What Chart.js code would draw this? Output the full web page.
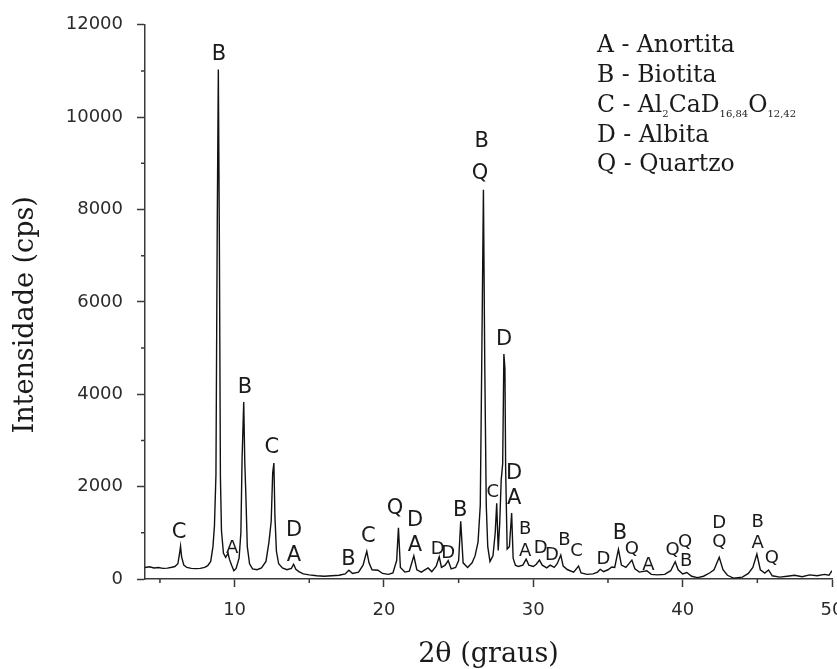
<!DOCTYPE html>
<html><head><meta charset="utf-8">
<script src="https://cdn.jsdelivr.net/npm/chart.js@4.4.1/dist/chart.umd.min.js"></script>
<style>html,body{margin:0;padding:0;background:#fff;overflow:hidden}#wrap{width:837px;height:669px}</style>
</head><body><div id="wrap"><canvas id="c" width="837" height="669"></canvas></div>
<script>
// ---- data ----
const twoTheta = [4.0,4.3,4.6,4.9,5.2,5.5,5.8,6.0,6.2,6.3,6.38,6.45,6.6,6.8,7.1,7.4,7.7,8.0,8.2,8.4,8.55,8.65,8.75,8.84,8.91,8.98,9.05,9.12,9.25,9.4,9.5,9.56,9.65,9.8,9.95,10.1,10.3,10.42,10.5,10.61,10.68,10.75,10.85,11.0,11.2,11.5,11.8,12.1,12.3,12.45,12.55,12.63,12.7,12.8,12.95,13.2,13.5,13.8,13.95,14.1,14.3,14.6,15.0,15.5,16.0,16.5,17.0,17.4,17.65,17.9,18.3,18.6,18.85,19.0,19.2,19.6,19.9,20.3,20.6,20.85,20.97,21.1,21.4,21.7,22.0,22.2,22.5,22.95,23.2,23.5,23.7,23.85,24.1,24.3,24.5,24.8,25.0,25.14,25.3,25.6,25.9,26.1,26.3,26.45,26.55,26.66,26.75,26.85,26.95,27.1,27.3,27.45,27.55,27.65,27.75,27.85,27.95,28.03,28.1,28.15,28.25,28.4,28.55,28.65,28.8,29.0,29.3,29.52,29.7,30.0,30.2,30.41,30.6,30.9,31.13,31.4,31.6,31.84,32.0,32.3,32.7,33.03,33.2,33.6,34.0,34.3,34.48,34.7,35.0,35.26,35.45,35.7,35.9,36.2,36.6,36.8,37.1,37.6,37.9,38.3,38.8,39.2,39.5,39.7,40.0,40.28,40.6,41.0,41.4,41.8,42.1,42.45,42.7,43.0,43.4,44.0,44.4,44.7,44.97,45.2,45.5,45.75,46.0,46.5,47.0,47.5,48.0,48.5,49.0,49.5,49.8,50.0];
const intensity = [250,265,240,250,230,235,255,270,330,520,710,480,300,250,230,225,230,250,290,380,700,1150,2250,7800,11030,7300,2200,1050,560,470,520,560,430,300,180,230,450,1000,2600,3830,2550,1850,700,330,220,200,240,380,800,1250,2300,2510,1350,600,330,240,200,230,320,210,160,110,90,70,60,70,80,110,190,120,150,300,600,350,200,190,120,100,130,400,1110,250,150,170,500,200,150,240,160,280,480,250,300,400,220,250,400,1250,350,250,350,500,800,1600,4760,8430,4620,1600,700,380,500,1000,1640,620,1200,2140,2500,4870,4550,2350,650,700,1430,450,300,270,300,430,300,270,320,410,300,240,300,250,330,520,280,200,150,280,130,100,110,150,210,160,200,260,250,640,300,250,410,220,150,180,100,90,100,180,375,200,110,140,60,30,60,130,200,470,200,80,20,40,120,250,540,200,130,195,70,40,60,80,50,90,70,100,80,180];
const xTicks = [10,20,30,40,50];
const xMinorTicks = [5,15,25,35,45];
const yTicks = [0,2000,4000,6000,8000,10000,12000];
const yMinorTicks = [1000,3000,5000,7000,9000,11000];
const peakLabelText = ['B','C','A','B','C','D','A','B','C','Q','D','A','D','D','B','B','Q','C','D','D','A','B','A','D','D','B','C','D','B','Q','A','Q','Q','B','D','Q','B','A','Q'];
const peakLabelX = [8.95,6.28,9.83,10.7,12.49,13.98,13.98,17.62,18.96,20.74,22.08,22.08,23.6,24.3,25.1,26.55,26.44,27.28,28.05,28.72,28.72,29.45,29.45,30.5,31.24,32.08,32.9,34.7,35.81,36.6,37.71,39.32,40.17,40.24,42.45,42.45,45.03,45.03,45.97];
const peakLabelY = [11350,1000,670,4150,2855,1057,518,431,913,1525,1273,734,641,555,1489,9474,8790,1884,5194,2281,1741,1072,589,662,518,842,589,431,986,641,302,626,784,375,1215,784,1237,770,447];
const legendA = 'A - Anortita';
const legendB = 'B - Biotita';
const legendC = [['C - Al',0],['2',1],['CaD',0],['16,84',1],['O',0],['12,42',1]];
const legendD = 'D - Albita';
const legendQ = 'Q - Quartzo';
const xTitle = '2θ (graus)';
const yTitle = 'Intensidade (cps)   ';

// ---- drawing ----
const points = twoTheta.map((x, i) => ({x: x, y: intensity[i]}));
const smallIdx = new Set([2,12,13,17,21,22,23,24,25,26,27,29,30,31,32,33,34,35,36,37,38]);
const AXIS = '#3a3a3a';

const extras = {
  id: 'extras',
  afterDraw(chart) {
    const ctx = chart.ctx, xs = chart.scales.x, ys = chart.scales.y, ca = chart.chartArea;
    ctx.save();
    ctx.strokeStyle = AXIS; ctx.lineWidth = 1.5;
    ctx.beginPath();
    xMinorTicks.forEach(v => { const p = xs.getPixelForValue(v); ctx.moveTo(p, ca.bottom); ctx.lineTo(p, ca.bottom + 4); });
    yMinorTicks.forEach(v => { const p = ys.getPixelForValue(v); ctx.moveTo(ca.left - 4, p); ctx.lineTo(ca.left, p); });
    ctx.stroke();
    ctx.fillStyle = '#1a1a1a';
    ctx.textAlign = 'center'; ctx.textBaseline = 'middle';
    peakLabelText.forEach((t, i) => {
      ctx.font = (smallIdx.has(i) ? '18px' : '21px') + ' "DejaVu Sans", sans-serif';
      ctx.fillText(t, xs.getPixelForValue(peakLabelX[i]), ys.getPixelForValue(peakLabelY[i]));
    });
    ctx.textAlign = 'left'; ctx.textBaseline = 'alphabetic';
    const big = '23.5px "DejaVu Serif", serif', sub = '10px "DejaVu Serif", serif';
    const lx = 597;
    ctx.font = big;
    ctx.fillText(legendA, lx, 51.5);
    ctx.fillText(legendB, lx, 81.5);
    let cx = lx;
    legendC.forEach(([s, isSub]) => {
      ctx.font = isSub ? sub : big;
      ctx.fillText(s, cx, isSub ? 117 : 111.5);
      cx += ctx.measureText(s).width;
    });
    ctx.font = big;
    ctx.fillText(legendD, lx, 141.5);
    ctx.fillText(legendQ, lx, 170.5);
    ctx.restore();
  }
};

new Chart(document.getElementById('c'), {
  type: 'line',
  data: { datasets: [{ data: points, borderColor: '#111', borderWidth: 1.4, pointRadius: 0, tension: 0, fill: false }] },
  options: {
    responsive: false, animation: false, devicePixelRatio: 1,
    layout: { padding: { top: 23, right: 5, left: 0, bottom: 0 } },
    plugins: { legend: { display: false }, tooltip: { enabled: false } },
    scales: {
      x: {
        type: 'linear', min: 4, max: 50,
        afterBuildTicks: s => { s.ticks = xTicks.map(v => ({ value: v })); },
        afterFit: s => { s.height = 90; s.paddingRight = 0; s.paddingLeft = 0; },
        grid: { drawOnChartArea: false, drawTicks: true, tickLength: 8, color: AXIS, tickWidth: 1.5 },
        border: { display: true, color: AXIS, width: 1.5 },
        ticks: { callback: v => String(v), font: { family: '"DejaVu Sans", sans-serif', size: 18 }, color: '#2b2b2b', padding: 13, maxRotation: 0, autoSkip: false },
        title: { display: true, text: xTitle, font: { family: '"DejaVu Serif", serif', size: 27, lineHeight: 1 }, color: '#1a1a1a', padding: { top: 0, bottom: 0.5 } }
      },
      y: {
        type: 'linear', min: 0, max: 12000,
        afterBuildTicks: s => { s.ticks = yTicks.map(v => ({ value: v })); },
        afterFit: s => { s.width = 145; },
        grid: { drawOnChartArea: false, drawTicks: true, tickLength: 8, color: AXIS, tickWidth: 1.5 },
        border: { display: true, color: AXIS, width: 1.5 },
        ticks: { callback: v => String(v), font: { family: '"DejaVu Sans", sans-serif', size: 18 }, color: '#2b2b2b', padding: 14 },
        title: { display: true, text: yTitle, font: { family: '"DejaVu Serif", serif', size: 27, lineHeight: 1 }, color: '#1a1a1a', padding: { top: 12.5, bottom: 0 } }
      }
    }
  },
  plugins: [extras]
});
</script></body></html>
